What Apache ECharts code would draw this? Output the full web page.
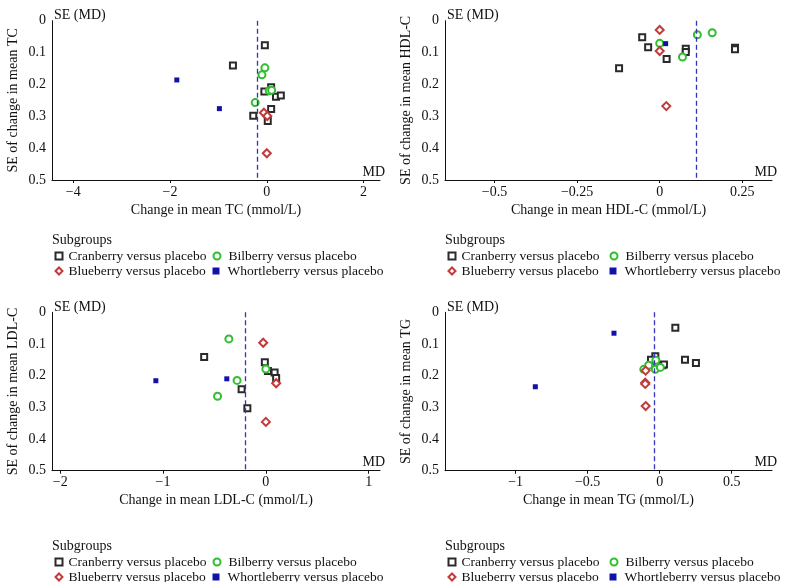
<!DOCTYPE html>
<html>
<head>
<meta charset="utf-8">
<script src="https://cdn.jsdelivr.net/npm/echarts@6/dist/echarts.min.js"></script>
<style>html,body{margin:0;padding:0;background:#fff}#c{width:787px;height:582px}</style>
</head>
<body>
<div id="c"></div>
<script>
// ---------- data ----------
const subgroups = ['Cranberry versus placebo','Bilberry versus placebo','Blueberry versus placebo','Whortleberry versus placebo'];

const tcCranberry = [[-0.04,0.077],[-0.70,0.141],[0.09,0.209],[-0.05,0.222],[0.19,0.239],[0.29,0.235],[0.09,0.277],[-0.28,0.298],[0.02,0.315]];
const tcBilberry = [[-0.04,0.148],[-0.10,0.170],[0.05,0.220],[0.10,0.218],[-0.24,0.257]];
const tcBlueberry = [[-0.06,0.289],[0.01,0.299],[0.00,0.416]];
const tcWhortleberry = [[-1.86,0.186],[-0.98,0.276]];
const tcPooled = -0.19;

const hdlCranberry = [[-0.053,0.052],[-0.035,0.083],[0.021,0.120],[-0.123,0.149],[0.079,0.088],[0.079,0.098],[0.228,0.085],[0.228,0.090]];
const hdlBilberry = [[0.0,0.071],[0.069,0.114],[0.114,0.044],[0.159,0.038]];
const hdlBlueberry = [[0.0,0.029],[0.0,0.095],[0.02,0.268]];
const hdlWhortleberry = [[0.018,0.072]];
const hdlPooled = 0.11;

const ldlCranberry = [[-0.60,0.141],[-0.01,0.158],[0.02,0.185],[0.085,0.190],[0.10,0.207],[-0.236,0.243],[-0.18,0.303]];
const ldlBilberry = [[-0.36,0.084],[0.0,0.179],[-0.28,0.215],[-0.47,0.265]];
const ldlBlueberry = [[-0.026,0.096],[0.10,0.224],[0.0,0.346]];
const ldlWhortleberry = [[-0.38,0.210],[-1.07,0.216]];
const ldlPooled = -0.20;

const tgCranberry = [[0.109,0.049],[-0.03,0.139],[-0.06,0.150],[0.176,0.150],[0.252,0.160],[0.019,0.167],[0.03,0.165],[-0.016,0.170]];
const tgBilberry = [[-0.11,0.180],[-0.076,0.167],[-0.026,0.151],[-0.03,0.180],[0.005,0.174]];
const tgBlueberry = [[-0.097,0.184],[-0.10,0.222],[-0.10,0.226],[-0.097,0.296]];
const tgWhortleberry = [[-0.317,0.066],[-0.863,0.235]];
const tgPooled = -0.035;

const xTicksTC = [-4,-2,0,2];
const xTicksHDL = [-0.5,-0.25,0,0.25];
const xTicksLDL = [-2,-1,0,1];
const xTicksTG = [-1,-0.5,0,0.5];

const xTitles = ['Change in mean TC (mmol/L)','Change in mean HDL-C (mmol/L)','Change in mean LDL-C (mmol/L)','Change in mean TG (mmol/L)'];
const yTitles = ['SE of change in mean TC','SE of change in mean HDL-C','SE of change in mean LDL-C','SE of change in mean TG'];
const legendTitle = 'Subgroups';

// ---------- layout / style ----------
const FONT = 'Liberation Serif';
const panels = [
  {left:52, top:20.7, width:328, height:159.3, xmin:-4.44, xmax:2.34, ticks:xTicksTC,
   sets:[tcCranberry,tcBilberry,tcBlueberry,tcWhortleberry], pooled:tcPooled, legTop:241, col2:164},
  {left:445, top:20.7, width:327, height:159.3, xmin:-0.65, xmax:0.34, ticks:xTicksHDL,
   sets:[hdlCranberry,hdlBilberry,hdlBlueberry,hdlWhortleberry], pooled:hdlPooled, legTop:241, col2:168},
  {left:52, top:312.3, width:328, height:158.4, xmin:-2.08, xmax:1.11, ticks:xTicksLDL,
   sets:[ldlCranberry,ldlBilberry,ldlBlueberry,ldlWhortleberry], pooled:ldlPooled, legTop:547, col2:164},
  {left:445, top:312.3, width:327, height:158.4, xmin:-1.49, xmax:0.78, ticks:xTicksTG,
   sets:[tgCranberry,tgBilberry,tgBlueberry,tgWhortleberry], pooled:tgPooled, legTop:547, col2:168}
];
const symbols = ['emptyRect','emptyCircle','emptyDiamond','rect'];
const sizes = [6,7,8,5];
const colors = ['#2a2a2a','#2fbf2f','#c23a3a','#1212a8'];
const dashColor = '#3434b4';

const grid=[], xAxis=[], yAxis=[], series=[], legend=[], graphic=[];
const fmt = v => String(v).replace('-', '\u2212');

panels.forEach((p, i) => {
  grid.push({left:p.left, top:p.top, width:p.width, height:p.height, containLabel:false, outerBoundsMode:'none'});
  xAxis.push({
    type:'value', gridIndex:i, min:p.xmin, max:p.xmax, position:'bottom',
    name:xTitles[i], nameLocation:'middle', nameGap:23,
    nameTextStyle:{fontFamily:FONT, fontSize:14, color:'#111'},
    axisLine:{onZero:false, lineStyle:{color:'#111', width:1}},
    axisTick:{show:true, length:3, customValues:p.ticks, lineStyle:{color:'#111'}},
    axisLabel:{customValues:p.ticks, formatter:fmt, fontFamily:FONT, fontSize:14, color:'#111', margin:5},
    splitLine:{show:false}
  });
  yAxis.push({
    type:'value', gridIndex:i, min:0, max:0.5, interval:0.1, inverse:true,
    name:yTitles[i], nameLocation:'middle', nameGap:32, nameRotate:90,
    nameTextStyle:{fontFamily:FONT, fontSize:14, color:'#111'},
    axisLine:{show:true, onZero:false, lineStyle:{color:'#111', width:1}},
    axisTick:{show:false},
    axisLabel:{fontFamily:FONT, fontSize:14, color:'#111', margin:6},
    splitLine:{show:false}
  });
  p.sets.forEach((d, k) => {
    const s = {
      type:'scatter', name:subgroups[k], xAxisIndex:i, yAxisIndex:i, data:d,
      symbol:symbols[k], symbolSize:sizes[k],
      itemStyle:{color:colors[k], borderWidth:1, opacity:1},
      emphasis:{disabled:true}, z:3
    };
    if (k === 0) {
      s.markLine = {
        silent:true, symbol:['none','none'], label:{show:false},
        lineStyle:{type:[5,3], color:dashColor, width:1.3},
        data:[{xAxis:p.pooled}]
      };
    }
    series.push(s);
  });
  // legends: header + 2x2 items
  const lx = p.left + 2.5, lx2 = p.left + p.col2 - 3.5;
  graphic.push({type:'text', left:p.left, top:p.legTop - 8,
    style:{text:legendTitle, font:'14px "' + FONT + '"', fill:'#111'}});
  const pos = [[lx, p.legTop + 8],[lx2, p.legTop + 8],[lx, p.legTop + 23],[lx2, p.legTop + 23]];
  subgroups.forEach((name, k) => {
    legend.push({
      data:[name], left:pos[k][0], top:pos[k][1], padding:0,
      itemWidth:7, itemHeight:7, itemGap:5, selectedMode:false,
      textStyle:{fontFamily:FONT, fontSize:13.5, color:'#111', padding:[0,0,0, k % 2 ? 3 : 1]}
    });
  });
  // SE (MD) and MD labels
  graphic.push({type:'text', left:p.left + 2, top:p.top - 12,
    style:{text:'SE (MD)', font:'14px "' + FONT + '"', fill:'#111'}});
  graphic.push({type:'text', right:787 - (p.left + p.width + 5), top:p.top + p.height - 15,
    style:{text:'MD', font:'14px "' + FONT + '"', fill:'#111'}});
});

const chart = echarts.init(document.getElementById('c'), null, {renderer:'canvas'});
chart.setOption({
  backgroundColor:'#fff', animation:false,
  grid, xAxis, yAxis, series, legend, graphic
});
</script>
</body>
</html>
